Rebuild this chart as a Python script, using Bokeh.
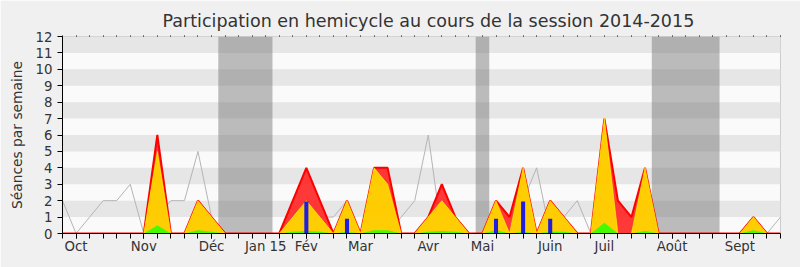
from bokeh.plotting import figure
from bokeh.models import FixedTicker, LinearAxis, Range1d
from bokeh.embed import file_html
from bokeh.resources import INLINE

weeks = list(range(54))
red = [0, 0, 0, 0, 0, 0, 0, 6, 0, 0, 2, 1, 0, 0, 0, 0, 0, 2, 4, 2,
       0, 2, 0, 4, 4, 0, 0, 1, 3, 1, 0, 0, 2, 1, 4, 0, 2, 1, 0, 0,
       7, 2, 1, 4, 0, 0, 0, 0, 0, 0, 0, 1, 0, 0]
yellow = [0, 0, 0, 0, 0, 0, 0, 5, 0, 0, 2, 1, 0, 0, 0, 0, 0, 1, 2, 1,
          0, 2, 0, 4, 3, 0, 0, 1, 2, 1, 0, 0, 2, 0, 4, 0, 2, 1, 0, 0,
          7, 0, 0, 4, 0, 0, 0, 0, 0, 0, 0, 1, 0, 0]
green = [0, 0, 0, 0, 0, 0, 0, 0.5, 0, 0, 0.2, 0.1, 0, 0, 0, 0, 0, 0.1, 0.15, 0.1,
         0, 0.1, 0, 0.2, 0.2, 0, 0, 0.1, 0.15, 0.1, 0, 0, 0.2, 0, 0.1, 0, 0.1, 0.1, 0, 0,
         0.65, 0, 0, 0.15, 0, 0, 0, 0, 0, 0, 0, 0.2, 0, 0]
blue = [0, 0, 0, 0, 0, 0, 0, 0, 0, 0, 0, 0, 0, 0, 0, 0, 0, 0, 1.95, 0,
        0, 0.9, 0, 0, 0, 0, 0, 0, 0, 0, 0, 0, 0.9, 0, 1.95, 0, 0.9, 0, 0, 0,
        0, 0, 0, 0, 0, 0, 0, 0, 0, 0, 0, 0, 0, 0]
gray = [2, 0, 1, 2, 2, 3, 0, 1, 2, 2, 5, 1, 0, 0, 0, 0, 0, 1, 2, 1,
        1, 2, 0, 2, 0, 1, 2, 6, 0, 1, 0, 0, 1, 1, 2, 4, 0, 1, 2, 0,
        1, 2, 1, 2, 0, 0, 0, 0, 0, 0, 0, 0, 0, 1]
month_labels = ["Oct", "Nov", "Déc", "Jan 15", "Fév", "Mar", "Avr", "Mai",
                "Juin", "Juil", "Août", "Sept"]
month_pos = [1, 6, 11, 15, 18, 22, 27, 31, 36, 40, 45, 50]
vacation_start = [11.5, 30.5, 43.5]
vacation_end = [15.5, 31.5, 48.5]
y_ticks = list(range(13))
stripe_bottom = [1, 3, 5, 7, 9, 11]

FONT = "DejaVu Sans"

p = figure(frame_width=718, frame_height=197,
           x_range=Range1d(0, 53), y_range=Range1d(0, 12),
           output_backend="svg", toolbar_location=None,
           min_border_left=62, min_border_right=20,
           min_border_top=36, min_border_bottom=34,
           title="Participation en hemicycle au cours de la session 2014-2015")
p.border_fill_color = "#f0f0f0"
p.background_fill_color = "#fafafa"
p.outline_line_color = "#cccccc"
p.grid.visible = False

p.title.text_font = FONT
p.title.text_font_size = "17.5px"
p.title.text_font_style = "normal"
p.title.text_color = "#333333"
p.title.align = "left"
p.title.offset = 100

# stripes
p.quad(left=0, right=53, bottom=stripe_bottom, top=[b + 1 for b in stripe_bottom],
       fill_color="#e6e6e6", line_color=None)
# vacation bands
p.quad(left=vacation_start, right=vacation_end, bottom=0, top=12,
       fill_color="#6e6e6e", fill_alpha=0.45, line_color=None)

p.line(weeks, gray, line_color="#b4b4b4", line_width=1)

p.varea(x=weeks, y1=0, y2=red, fill_color="#ff2222", fill_alpha=0.9)
p.line(weeks, red, line_color="#ff0000", line_width=2)
p.varea(x=weeks, y1=0, y2=yellow, fill_color="#ffd500", fill_alpha=0.95)
p.line(weeks, yellow, line_color="#ffff00", line_width=1, line_alpha=0.6)
p.varea(x=weeks, y1=0, y2=green, fill_color="#33ff00", fill_alpha=0.9)
p.vbar(x=weeks, top=blue, width=0.3, fill_color="#1f1fdd", line_color=None)

# axes
p.yaxis.ticker = FixedTicker(ticks=y_ticks)
p.yaxis.major_tick_out = 5
p.yaxis.major_tick_in = 0
p.yaxis.minor_tick_line_color = None
p.yaxis.major_label_standoff = 5
p.yaxis.axis_label = "Séances par semaine"
p.yaxis.axis_label_standoff = 8
p.yaxis.axis_label_text_font = FONT
p.yaxis.axis_label_text_font_style = "normal"
p.yaxis.axis_label_text_font_size = "13.8px"
p.yaxis.axis_label_text_color = "#333333"
p.yaxis.major_label_text_font = FONT
p.yaxis.major_label_text_font_size = "13.3px"
p.yaxis.major_label_text_color = "#333333"

p.xaxis.ticker = FixedTicker(ticks=month_pos, minor_ticks=weeks)
p.xaxis.major_label_overrides = {pos: lab for pos, lab in zip(month_pos, month_labels)}
p.xaxis.major_tick_out = 5
p.xaxis.major_tick_in = 0
p.xaxis.minor_tick_out = 5
p.xaxis.minor_tick_in = 0
p.xaxis.major_label_standoff = 0
p.xaxis.major_label_text_font = FONT
p.xaxis.major_label_text_font_size = "13.3px"
p.xaxis.major_label_text_color = "#333333"

top = LinearAxis(ticker=FixedTicker(ticks=[], minor_ticks=weeks),
                 minor_tick_out=1, minor_tick_in=0,
                 major_tick_line_color=None, axis_line_color=None)
p.add_layout(top, "above")

open("out.html", "w").write(file_html(p, INLINE))
